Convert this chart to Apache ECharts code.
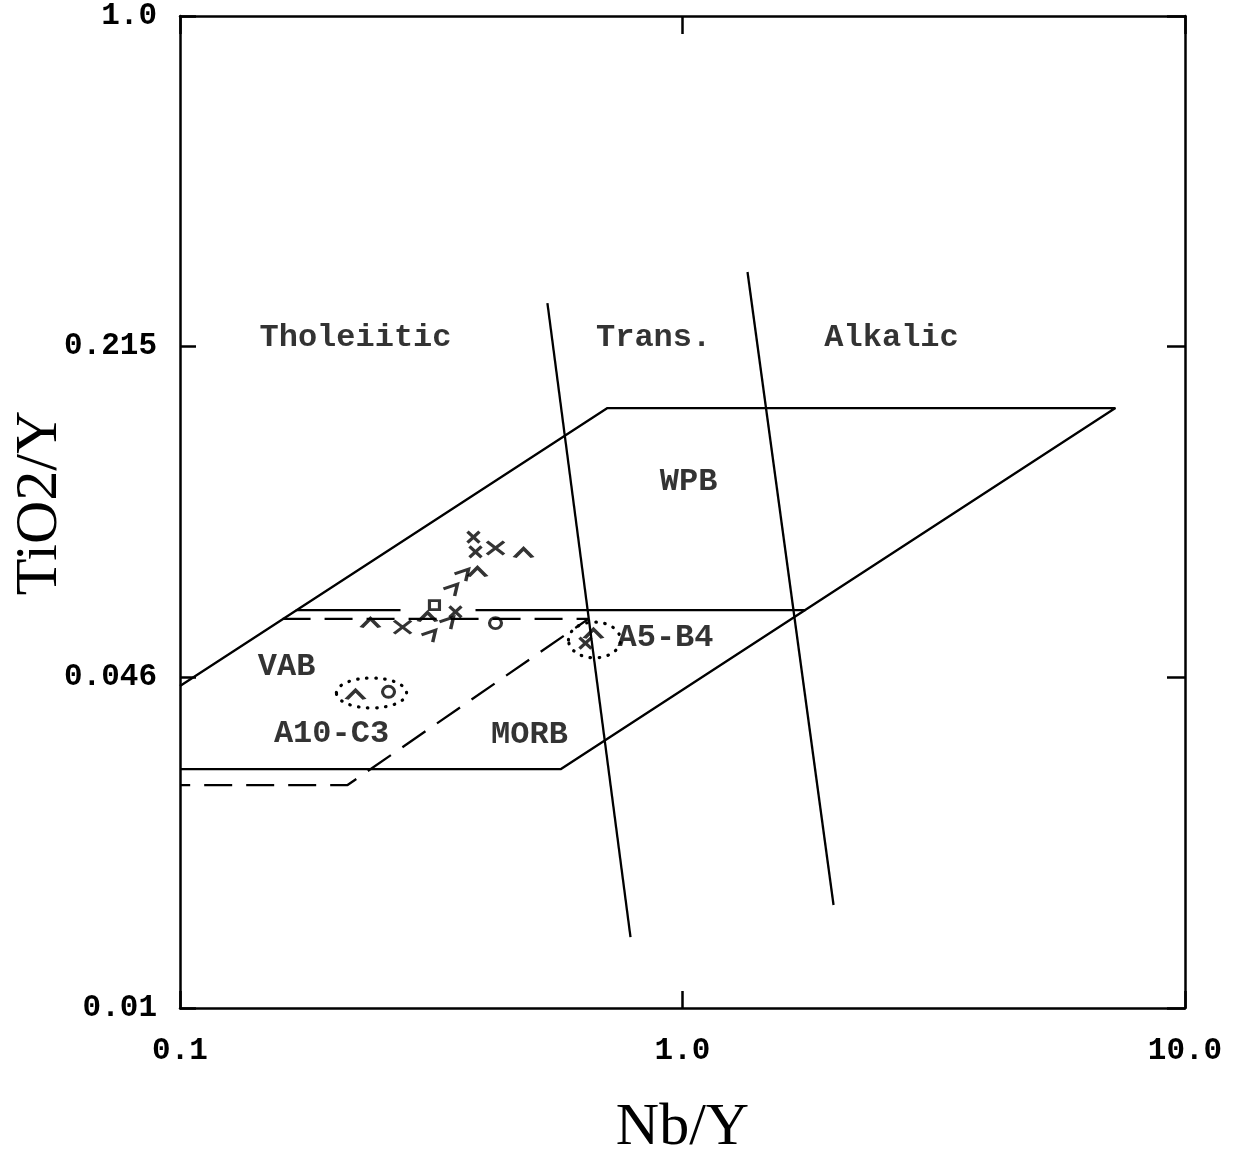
<!DOCTYPE html>
<html>
<head>
<meta charset="utf-8">
<script src="https://cdn.jsdelivr.net/npm/echarts@6/dist/echarts.min.js"></script>
<style>
html,body{margin:0;padding:0;background:#fff;}
#chart{width:1240px;height:1151px;}
</style>
</head>
<body>
<div id="chart"></div>
<script>
// Axis tick labels
const xTickLabels = ['0.1', '1.0', '10.0'];
const yTickLabels = ['0.01', '0.046', '0.215', '1.0'];

// Field boundaries (Nb/Y, TiO2/Y)
const outerField = [[0.1, 0.0446], [0.709, 0.162], [7.27, 0.162], [0.572, 0.0303], [0.1, 0.0303]];
const wpbDividerLeft = [[0.17, 0.0634], [0.2747, 0.0634]];
const wpbDividerRight = [[0.3873, 0.0634], [1.757, 0.0634]];
const vabDashed = [[0.16, 0.0609], [0.65, 0.0609], [0.2155, 0.02815], [0.1, 0.02815]];
const tholTransLine = [[0.5385, 0.2638], [0.788, 0.0139]];
const transAlkLine = [[1.347, 0.3047], [1.998, 0.01613]];

// Samples by symbol
const smallXPts = [[0.3837, 0.0890], [0.3873, 0.0831], [0.3533, 0.0629], [0.641, 0.0544]];
const bigXPts = [[0.4245, 0.0846], [0.2773, 0.0586]];
const caretPts = [[0.4827, 0.0827], [0.3908, 0.0757], [0.2393, 0.0597], [0.3108, 0.0614], [0.665, 0.0568], [0.2235, 0.0428]];
const sevenPts = [[0.3633, 0.0746], [0.3453, 0.0696], [0.3391, 0.0597], [0.3123, 0.0562]];
const circlePts = [[0.4245, 0.0597], [0.260, 0.0434]];
const squarePts = [[0.3209, 0.0649]];

// Dotted sample groups: [xCenter, yCenter, xLeft, xRight, yLow, yHigh]
const groupEllipses = [[0.2405, 0.0432, 0.2048, 0.2824, 0.04026, 0.04628], [0.667, 0.0553, 0.593, 0.7527, 0.0508, 0.060]];

// Field names
const fieldNames = ['Tholeiitic', 'Trans.', 'Alkalic', 'WPB', 'VAB', 'A10-C3', 'MORB', 'A5-B4'];
const fieldNameX = [0.2235, 0.876, 2.606, 1.028, 0.163, 0.2002, 0.496, 0.925];
const fieldNameY = [0.2243, 0.2243, 0.2243, 0.115, 0.0487, 0.0357, 0.0355, 0.0557];

const chart = echarts.init(document.getElementById('chart'), null, {renderer: 'canvas'});
const MONO = '"Liberation Mono", "DejaVu Sans Mono", monospace';
const SERIF = '"Liberation Serif", "DejaVu Serif", serif';
const axisLine = {show: true, lineStyle: {color: '#000', width: 2.5}};
const ax = {type: 'log', logBase: 10, min: 0.1, max: 10};
const ay = {type: 'log', logBase: Math.pow(10, 2 / 3), min: 0.01, max: 1};

function lineSeries(data, dashed) {
  return {
    type: 'line', data: data, showSymbol: false, symbol: 'none', silent: true,
    lineStyle: {color: '#000', width: 2.3, type: dashed ? [28, 14] : 'solid'},
    z: 2, animation: false
  };
}
function markSeries(data, symbol, size, lw) {
  return {
    type: 'scatter', data: data, symbol: symbol, symbolSize: size, silent: true,
    itemStyle: {color: 'rgba(0,0,0,0)', borderColor: '#000', borderWidth: lw || 3.2},
    z: 5, animation: false
  };
}

const option = {
  animation: false,
  backgroundColor: '#fff',
  grid: {left: 180, right: 55, top: 16, bottom: 143, containLabel: false, outerBoundsMode: 'none'},
  xAxis: [
    Object.assign({}, ax, {
      position: 'bottom', name: 'Nb/Y', nameLocation: 'middle', nameGap: 90, nameMoveOverlap: false,
      nameTextStyle: {fontFamily: SERIF, fontSize: 60, color: '#000'},
      axisLine: axisLine,
      axisTick: {show: true, inside: true, length: 17, lineStyle: {color: '#000', width: 2.5}},
      axisLabel: {show: true, margin: 28, color: '#000', fontFamily: MONO, fontWeight: 'bold', fontSize: 31,
        formatter: (v, i) => xTickLabels[i]},
      splitLine: {show: false}, minorTick: {show: false}
    }),
    Object.assign({}, ax, {
      position: 'top',
      axisLine: axisLine,
      axisTick: {show: true, inside: true, length: 18, lineStyle: {color: '#000', width: 2.5}},
      axisLabel: {show: false}, splitLine: {show: false}
    })
  ],
  yAxis: [
    Object.assign({}, ay, {
      position: 'left', name: 'TiO2/Y', nameLocation: 'middle', nameGap: 110, nameRotate: 90, nameMoveOverlap: false,
      nameTextStyle: {fontFamily: SERIF, fontSize: 60, color: '#000', padding: [0, 0, 0, 18]},
      axisLine: axisLine,
      axisTick: {show: true, inside: true, length: 16, lineStyle: {color: '#000', width: 2.5}},
      axisLabel: {show: true, margin: 23, color: '#000', fontFamily: MONO, fontWeight: 'bold', fontSize: 31,
        formatter: (v, i) => yTickLabels[i]},
      splitLine: {show: false}
    }),
    Object.assign({}, ay, {
      position: 'right',
      axisLine: axisLine,
      axisTick: {show: true, inside: true, length: 18, lineStyle: {color: '#000', width: 2.5}},
      axisLabel: {show: false}, splitLine: {show: false}
    })
  ],
  series: [
    lineSeries(outerField, false),
    lineSeries(wpbDividerLeft, false),
    lineSeries(wpbDividerRight, false),
    lineSeries(vabDashed, true),
    lineSeries(tholTransLine, false),
    lineSeries(transAlkLine, false),
    {
      type: 'custom', data: groupEllipses, silent: true, z: 4, animation: false,
      renderItem: function (params, api) {
        const l = api.coord([api.value(2), api.value(1)]);
        const r = api.coord([api.value(3), api.value(1)]);
        const b = api.coord([api.value(0), api.value(4)]);
        const t = api.coord([api.value(0), api.value(5)]);
        return {
          type: 'ellipse',
          shape: {cx: (l[0] + r[0]) / 2, cy: (t[1] + b[1]) / 2, rx: (r[0] - l[0]) / 2, ry: (b[1] - t[1]) / 2},
          style: {fill: 'none', stroke: '#000', lineWidth: 3.2, lineDash: [0.5, 8.5], lineCap: 'round'}
        };
      }
    },
    markSeries(smallXPts, 'path://M0,0 L10,10 M10,0 L0,10', [12, 11]),
    markSeries(bigXPts, 'path://M0,0 L10,10 M10,0 L0,10', [17, 13]),
    markSeries(caretPts, 'path://M0,10 L5,0 L10,10', [18, 9]),
    markSeries(sevenPts, 'path://M0,4 L10,0 L8,10', [14, 12]),
    markSeries(circlePts, 'circle', [12, 11], 3),
    markSeries(squarePts, 'rect', [10, 9], 3),
    {
      type: 'scatter', silent: true, z: 6, animation: false,
      symbolSize: 1, itemStyle: {color: 'rgba(0,0,0,0)'},
      data: fieldNames.map((n, i) => ({name: n, value: [fieldNameX[i], fieldNameY[i]]})),
      label: {show: true, position: 'inside', formatter: p => p.name, color: '#000',
        fontFamily: MONO, fontWeight: 'bold', fontSize: 32}
    }
  ]
};
chart.setOption(option);
</script>
</body>
</html>
